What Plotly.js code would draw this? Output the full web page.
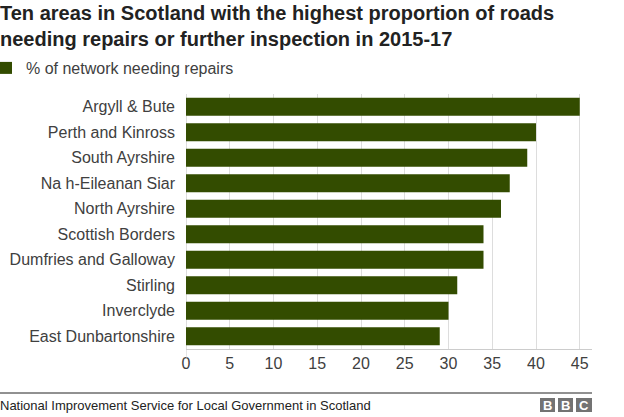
<!DOCTYPE html>
<html>
<head>
<meta charset="utf-8">
<script src="https://cdn.plot.ly/plotly-3.0.1.min.js"></script>
<style>
  html, body { margin: 0; padding: 0; background: #ffffff; }
  #chart { width: 624px; height: 417px; }
</style>
</head>
<body>
<div id="chart"></div>
<script>
// ---- data ----
const areas = [
  "Argyll & Bute",
  "Perth and Kinross",
  "South Ayrshire",
  "Na h-Eileanan Siar",
  "North Ayrshire",
  "Scottish Borders",
  "Dumfries and Galloway",
  "Stirling",
  "Inverclyde",
  "East Dunbartonshire"
];
const pctNeedingRepairs = [45, 40, 39, 37, 36, 34, 34, 31, 30, 29];
const seriesName = "% of network needing repairs";
const xTicks = [0, 5, 10, 15, 20, 25, 30, 35, 40, 45];
const titleLine1 = "Ten areas in Scotland with the highest proportion of roads";
const titleLine2 = "needing repairs or further inspection in 2015-17";
const sourceText = "National Improvement Service for Local Government in Scotland";

// ---- layout helpers (pixel -> paper) ----
const W = 624, H = 417;
const M = { l: 186, r: 32, t: 94, b: 68, autoexpand: false };
const PW = W - M.l - M.r, PH = H - M.t - M.b;
const px = x => (x - M.l) / PW;
const py = y => (H - M.b - y) / PH;

const FONT = "Liberation Sans, Arial, Helvetica, sans-serif";
const barColor = "#334c00";
const titleFont = { family: FONT, size: 20, color: "#222222", weight: "bold" };

const trace = {
  type: "bar",
  orientation: "h",
  x: pctNeedingRepairs,
  y: areas,
  name: seriesName,
  marker: { color: barColor },
  showlegend: true,
  hoverinfo: "x+y"
};

const logoShapes = [];
const logoAnns = [];
const boxes = [[540, 555, "B"], [558, 573, "B"], [576, 592, "C"]];
boxes.forEach(b => {
  logoShapes.push({
    type: "rect", xref: "paper", yref: "paper",
    x0: px(b[0]), x1: px(b[1]), y0: py(412), y1: py(398),
    fillcolor: "#737373", line: { width: 0 }
  });
  logoAnns.push({
    xref: "paper", yref: "paper",
    x: px((b[0] + b[1]) / 2), y: py(405),
    xanchor: "center", yanchor: "middle",
    text: "<b>" + b[2] + "</b>", showarrow: false,
    font: { family: FONT, size: 13, color: "#ffffff" }
  });
});

const layout = {
  width: W, height: H,
  margin: M,
  paper_bgcolor: "#ffffff",
  plot_bgcolor: "#ffffff",
  font: { family: FONT, size: 16, color: "#404040" },
  title: {
    text: titleLine1,
    xref: "container", yref: "container",
    x: 0, xanchor: "left",
    y: 1 - 6 / H, yanchor: "top",
    font: titleFont
  },
  bargap: 0.29,
  xaxis: {
    range: [0, 46.4],
    tickvals: xTicks,
    ticktext: xTicks.map(String),
    showgrid: true,
    gridcolor: "#dddddd",
    gridwidth: 1,
    zeroline: true,
    zerolinecolor: "#dddddd",
    showline: true,
    linecolor: "#cccccc",
    linewidth: 1,
    ticks: "",
    tickfont: { family: FONT, size: 16, color: "#404040" },
    fixedrange: true
  },
  yaxis: {
    autorange: "reversed",
    type: "category",
    showgrid: false,
    zeroline: false,
    showline: false,
    ticks: "",
    ticklabelstandoff: 10,
    tickfont: { family: FONT, size: 16, color: "#404040" },
    fixedrange: true
  },
  showlegend: true,
  legend: {
    xref: "paper", yref: "paper",
    x: px(-14), y: py(51),
    xanchor: "left", yanchor: "top",
    orientation: "h",
    font: { family: FONT, size: 16, color: "#404040" },
    bgcolor: "rgba(0,0,0,0)",
    borderwidth: 0
  },
  shapes: [
    { type: "line", xref: "x", yref: "paper", x0: 0, x1: 0, y0: 0, y1: py(358),
      line: { color: "#cccccc", width: 1 } },
    { type: "line", xref: "paper", yref: "paper", x0: px(0), x1: px(592), y0: py(393), y1: py(393),
      line: { color: "#222222", width: 1 } }
  ].concat(logoShapes),
  annotations: [
    { xref: "paper", yref: "paper", x: px(-2), y: py(39),
      xanchor: "left", yanchor: "middle", showarrow: false,
      text: titleLine2, font: titleFont },
    { xref: "paper", yref: "paper", x: px(-2), y: py(405),
      xanchor: "left", yanchor: "middle", showarrow: false,
      text: sourceText,
      font: { family: FONT, size: 13, color: "#222222" } }
  ].concat(logoAnns)
};

Plotly.newPlot("chart", [trace], layout, { displayModeBar: false, staticPlot: true });
</script>
</body>
</html>
